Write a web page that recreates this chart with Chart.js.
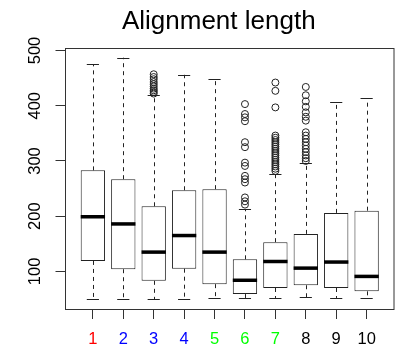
<!DOCTYPE html>
<html>
<head>
<meta charset="utf-8">
<script src="https://cdn.jsdelivr.net/npm/chart.js@4"></script>
<style>
  body { margin: 0; background: #fff; }
  canvas { display: block; }
</style>
</head>
<body>
<canvas id="boxChart" width="399" height="356"></canvas>
<script>
// dados
const groups = ['1', '2', '3', '4', '5', '6', '7', '8', '9', '10'];
const groupColors = ['#ff0000', '#0000ff', '#0000ff', '#0000ff', '#00ff00', '#00ff00', '#00ff00', '#000000', '#000000', '#000000'];
const whiskerLow = [50, 50, 50, 50, 52, 52, 52, 53, 52, 52];
const q1 = [119, 104, 83, 105, 77, 59, 70, 75, 70, 64];
const median = [199, 186, 135, 165, 135, 84, 118, 106, 117, 91];
const q3 = [283, 267, 218, 247, 249, 122, 153, 168, 206, 210];
const whiskerHigh = [475, 487, 420, 456, 449, 213, 277, 297, 406, 414];
const outliers = [
    [],
    [],
    [422, 425, 428, 431, 435, 439, 443, 448, 452, 457],
    [],
    [],
    [403, 385, 379, 372, 334, 325, 297, 291, 273, 267, 261, 234, 227, 221],
    [442, 427, 397, 346, 342, 338, 334, 330, 326, 322, 318, 314, 310, 306, 302, 298, 294, 290, 286, 282],
    [434, 419, 408, 398, 388, 380, 373, 352, 346, 340, 334, 328, 322, 316, 310, 305, 300],
    [],
    []
];
const yTicks = [100, 200, 300, 400, 500];

const fontFamily = "'Liberation Sans', Arial, Helvetica, sans-serif";

const boxData = groups.map((g, i) => ({ x: i + 1, y: [q1[i], q3[i]] }));
const outlierData = [];
outliers.forEach((list, i) => {
    list.forEach(v => outlierData.push({ x: i + 1, y: v }));
});

// bigodes, medianas, moldura e rótulos do eixo y
const boxPlotPlugin = {
    id: 'boxPlot',
    afterDatasetsDraw(chart) {
        const ctx = chart.ctx;
        const xs = chart.scales.x;
        const ys = chart.scales.y;
        const bars = chart.getDatasetMeta(0).data;
        ctx.save();
        ctx.strokeStyle = '#222';
        groups.forEach((g, i) => {
            const xc = xs.getPixelForValue(i + 1);
            const w = bars[i].width;
            const yLow = ys.getPixelForValue(whiskerLow[i]);
            const yQ1 = ys.getPixelForValue(q1[i]);
            const yQ3 = ys.getPixelForValue(q3[i]);
            const yHigh = ys.getPixelForValue(whiskerHigh[i]);
            const yMed = ys.getPixelForValue(median[i]);
            ctx.lineWidth = 1;
            ctx.setLineDash([4, 4]);
            ctx.beginPath();
            ctx.moveTo(Math.round(xc) + 0.5, yQ3);
            ctx.lineTo(Math.round(xc) + 0.5, yHigh);
            ctx.moveTo(Math.round(xc) + 0.5, yQ1);
            ctx.lineTo(Math.round(xc) + 0.5, yLow);
            ctx.stroke();
            ctx.setLineDash([]);
            ctx.beginPath();
            ctx.moveTo(xc - w / 4, Math.round(yHigh) + 0.5);
            ctx.lineTo(xc + w / 4, Math.round(yHigh) + 0.5);
            ctx.moveTo(xc - w / 4, Math.round(yLow) + 0.5);
            ctx.lineTo(xc + w / 4, Math.round(yLow) + 0.5);
            ctx.stroke();
            ctx.lineWidth = 3.5;
            ctx.strokeStyle = '#000';
            ctx.beginPath();
            ctx.moveTo(xc - w / 2, yMed);
            ctx.lineTo(xc + w / 2, yMed);
            ctx.stroke();
            ctx.strokeStyle = '#222';
        });
        // moldura
        const a = chart.chartArea;
        ctx.lineWidth = 1;
        ctx.strokeStyle = '#333';
        ctx.strokeRect(a.left, Math.round(a.top) + 0.5, a.right - a.left, Math.round(a.bottom) - Math.round(a.top));
        // rótulos do eixo y (verticais como no R)
        ctx.fillStyle = '#000';
        ctx.font = '16.5px ' + fontFamily;
        ctx.textAlign = 'center';
        ctx.textBaseline = 'alphabetic';
        yTicks.forEach(v => {
            ctx.save();
            ctx.translate(40, ys.getPixelForValue(v));
            ctx.rotate(-Math.PI / 2);
            ctx.fillText(String(v), 0, 0);
            ctx.restore();
        });
        ctx.restore();
    }
};

const ctx = document.getElementById('boxChart').getContext('2d');
const boxChart = new Chart(ctx, {
    type: 'bar',
    data: {
        datasets: [{
            label: 'caixas',
            data: boxData,
            backgroundColor: '#ffffff',
            borderColor: '#222',
            borderWidth: 1,
            borderSkipped: false,
            barPercentage: 0.8,
            categoryPercentage: 1
        }, {
            type: 'scatter',
            label: 'outliers',
            data: outlierData,
            pointStyle: 'circle',
            radius: 3.5,
            borderWidth: 1,
            borderColor: '#222',
            backgroundColor: 'rgba(0,0,0,0)'
        }]
    },
    options: {
        responsive: false,
        animation: false,
        layout: { padding: { left: 40, right: 1.5, top: 0, bottom: 0 } },
        plugins: {
            legend: { display: false },
            tooltip: { enabled: false },
            title: {
                display: true,
                text: 'Alignment length',
                color: '#000',
                font: { family: fontFamily, size: 26, weight: 'normal', lineHeight: 1.2 },
                padding: { top: 6.5, bottom: 10.6 }
            }
        },
        scales: {
            x: {
                type: 'linear',
                offset: false,
                min: 0.1,
                max: 10.9,
                afterBuildTicks: (scale) => { scale.ticks = groups.map((g, i) => ({ value: i + 1 })); },
                afterFit: (scale) => { scale.height = 47; },
                ticks: {
                    callback: (value, index) => groups[index],
                    color: (c) => groupColors[c.index],
                    font: { family: fontFamily, size: 16.5 },
                    padding: 11,
                    maxRotation: 0,
                    autoSkip: false
                },
                grid: { offset: false, drawOnChartArea: false, drawTicks: true, tickLength: 10, color: '#333' },
                border: { display: false }
            },
            y: {
                min: 32,
                max: 504,
                afterBuildTicks: (scale) => { scale.ticks = yTicks.map(v => ({ value: v })); },
                afterFit: (scale) => { scale.width = 25.5; },
                ticks: { display: false },
                grid: { drawOnChartArea: false, drawTicks: true, tickLength: 10, color: '#333' },
                border: { display: false }
            }
        }
    },
    plugins: [boxPlotPlugin]
});
</script>
</body>
</html>
